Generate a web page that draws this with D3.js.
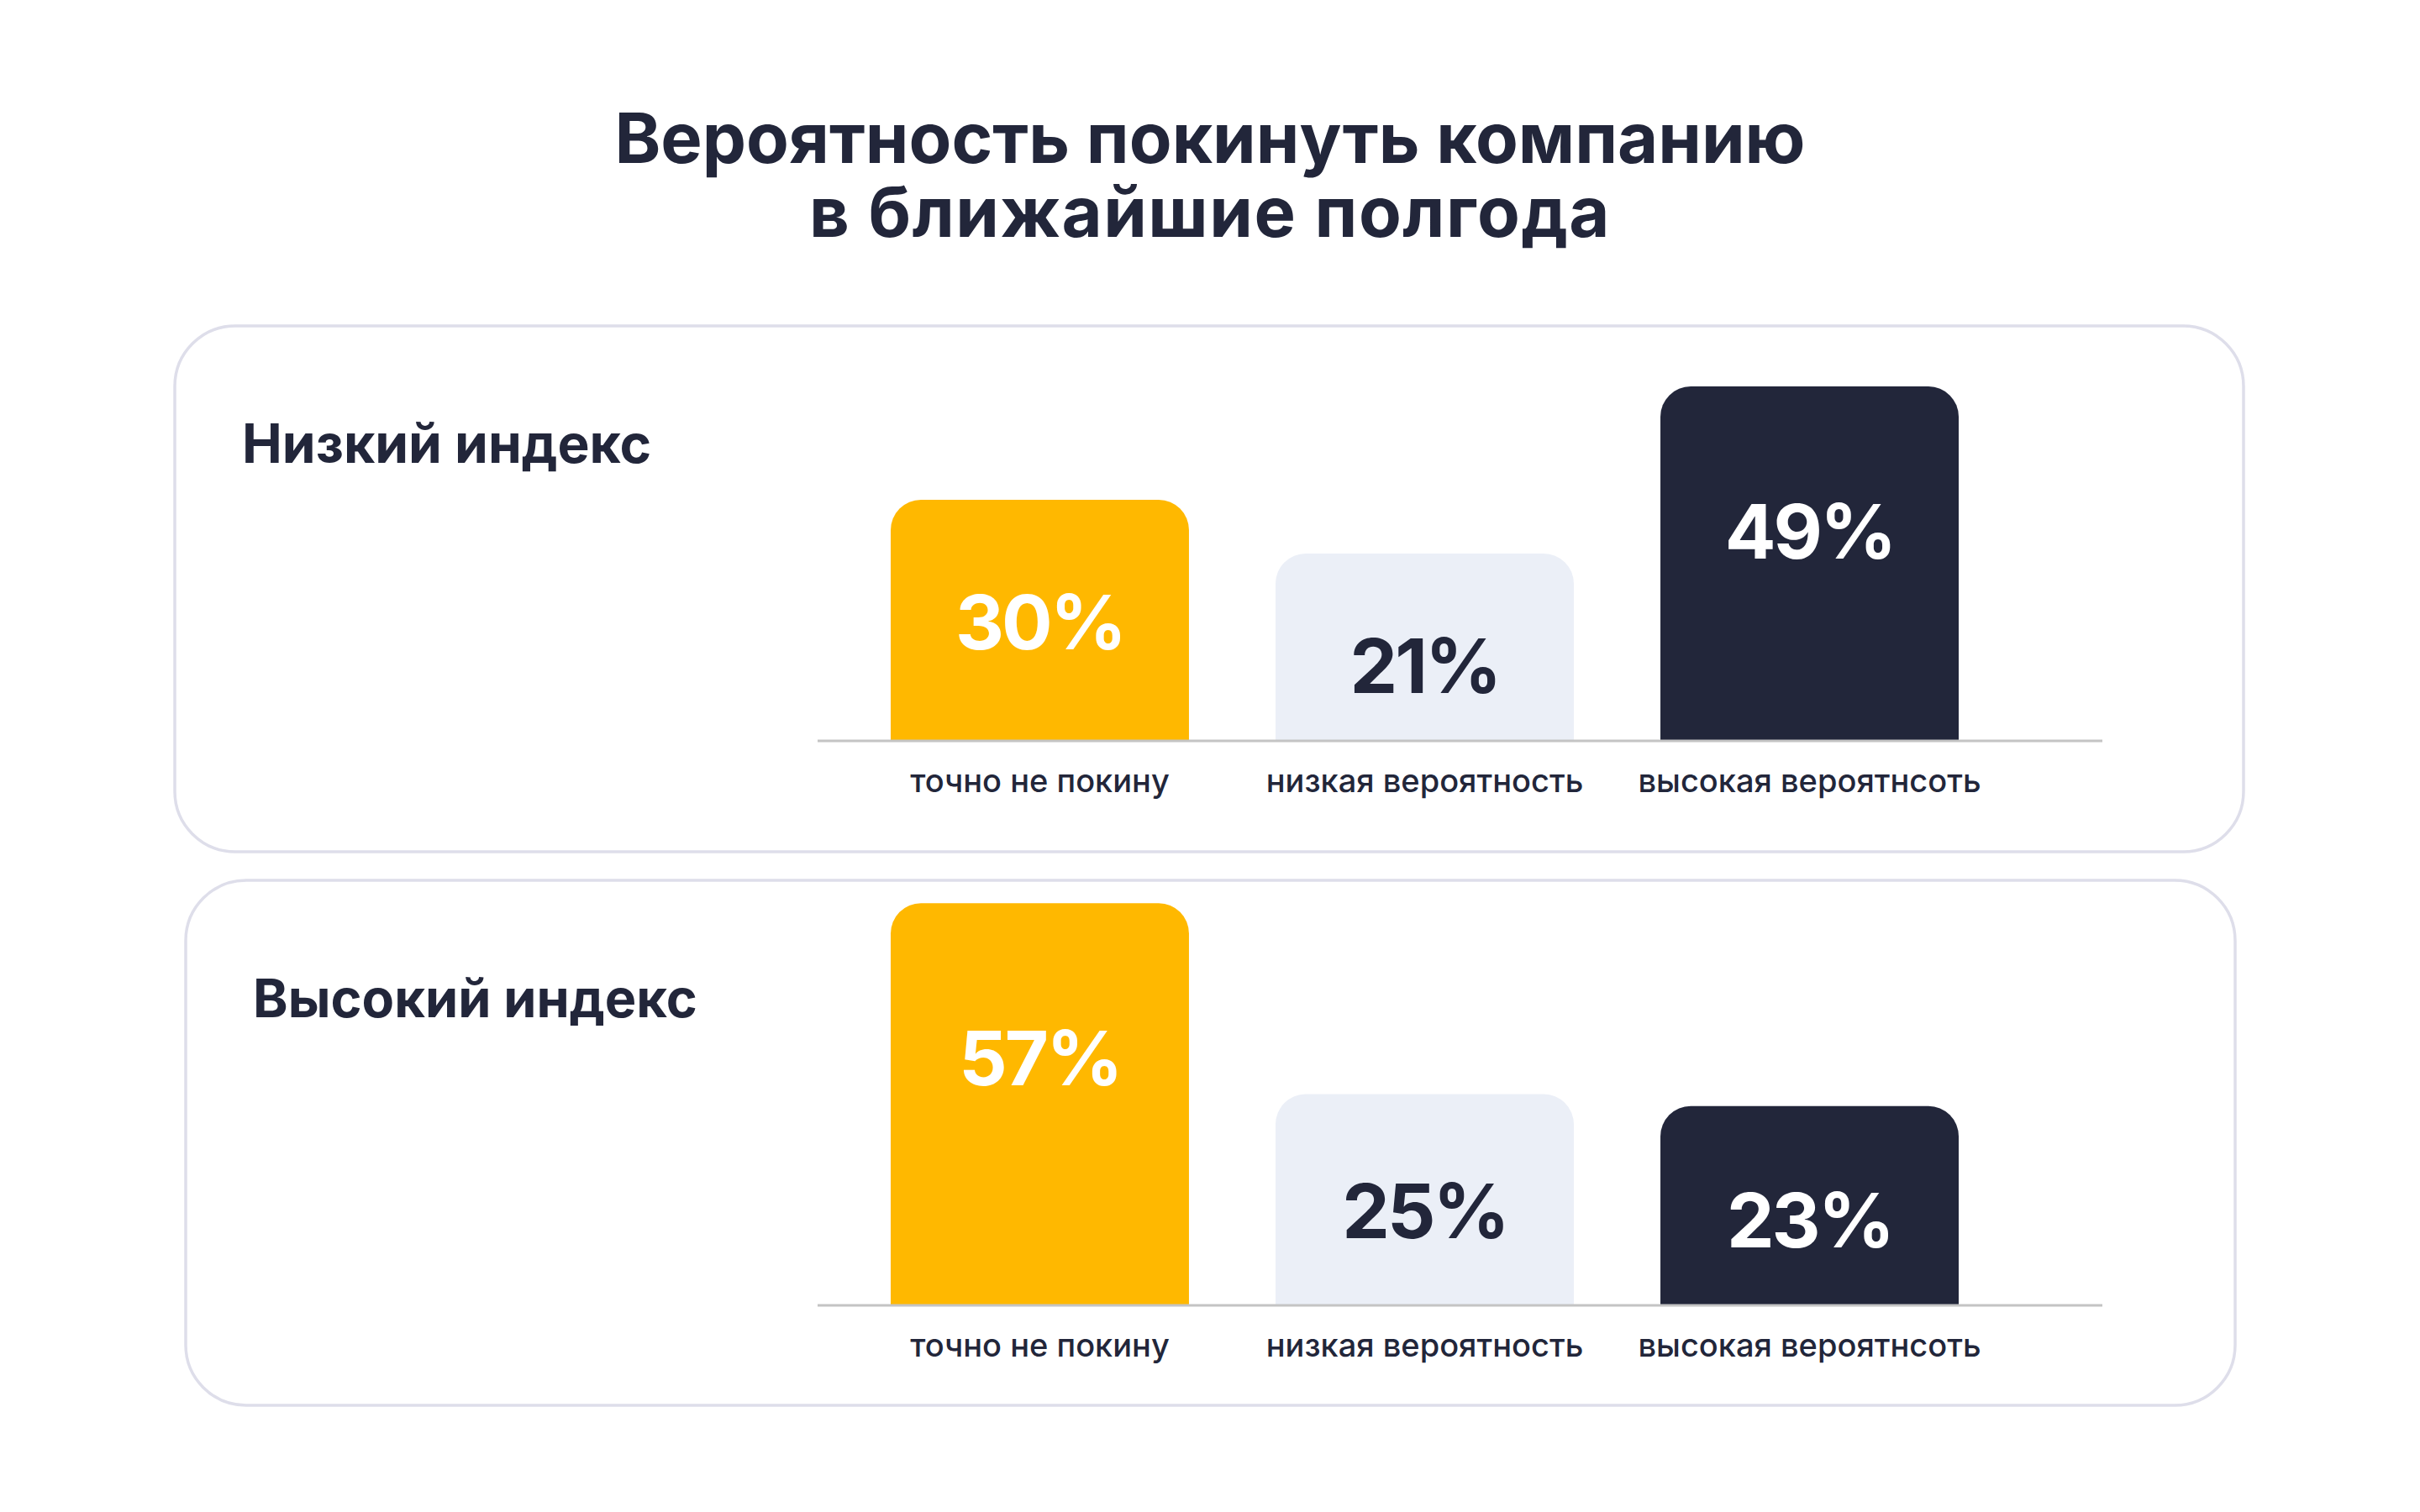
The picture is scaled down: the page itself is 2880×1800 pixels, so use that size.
<!DOCTYPE html>
<html lang="ru">
<head>
<meta charset="utf-8">
<script src="https://cdn.jsdelivr.net/npm/d3@7"></script>
<style>
    html, body { margin: 0; padding: 0; background: #ffffff; }
    svg { display: block; font-family: Inter, "Noto Sans", sans-serif; }
</style>
</head>
<body>
<svg id="chart" width="2880" height="1800"></svg>
<script>
// данные графика
var titleLines = ["Вероятность покинуть компанию", "в ближайшие полгода"];
var panelTitles = ["Низкий индекс", "Высокий индекс"];
var categories = ["точно не покину", "низкая вероятность", "высокая вероятнсоть"];
var lowIndex = [30, 21, 49];
var highIndex = [57, 25, 23];
var barColors = ["#FFB800", "#EBEFF7", "#22263A"];
var valueColors = ["#ffffff", "#22263A", "#ffffff"];

var dark = "#22263A";
var svg = d3.select("#chart");

// заголовок
svg.selectAll(".title")
    .data(titleLines)
    .enter()
    .append("text")
    .attr("class", "title")
    .attr("x", 1440)
    .attr("y", function (d, i) { return 194 + i * 88; })
    .attr("text-anchor", "middle")
    .attr("font-size", 83)
    .attr("font-weight", 700)
    .attr("letter-spacing", function (d, i) { return i == 0 ? 0 : 1.5; })
    .attr("fill", dark)
    .text(function (d) { return d; });

// раскладка карточек
var panels = [
    { title: panelTitles[0], values: lowIndex, x: 208, y: 388, w: 2462, h: 626, base: 882, fs: 64 },
    { title: panelTitles[1], values: highIndex, x: 221, y: 1048, w: 2439, h: 625, base: 1554, fs: 63 }
];

var x = d3.scaleBand()
    .domain(categories)
    .range([1060, 2331])
    .paddingInner(0.225)
    .paddingOuter(0);

// высота столбца (у макета есть минимальная высота)
var h = d3.scaleLinear().domain([0, 60]).range([74, 500]);

var r = 36;

function topRounded(x0, y0, w, hh) {
    var p = d3.path();
    p.moveTo(x0, y0 + hh);
    p.lineTo(x0, y0 + r);
    p.arcTo(x0, y0, x0 + r, y0, r);
    p.lineTo(x0 + w - r, y0);
    p.arcTo(x0 + w, y0, x0 + w, y0 + r, r);
    p.lineTo(x0 + w, y0 + hh);
    p.closePath();
    return p.toString();
}

panels.forEach(function (pn) {
    var g = svg.append("g");

    g.append("rect")
        .attr("x", pn.x)
        .attr("y", pn.y)
        .attr("width", pn.w)
        .attr("height", pn.h)
        .attr("rx", 72)
        .attr("fill", "#ffffff")
        .attr("stroke", "#DEDEEA")
        .attr("stroke-width", 3.5);

    g.append("text")
        .attr("x", pn.x + 80)
        .attr("y", pn.y + 163)
        .attr("font-size", pn.fs)
        .attr("font-weight", 700)
        .attr("fill", dark)
        .text(pn.title);

    var rows = categories.map(function (c, i) {
        return { cat: c, val: pn.values[i], i: i };
    });

    g.selectAll(".bar")
        .data(rows)
        .enter()
        .append("path")
        .attr("class", "bar")
        .attr("d", function (d) {
            return topRounded(x(d.cat), pn.base - h(d.val), x.bandwidth(), h(d.val));
        })
        .attr("fill", function (d) { return barColors[d.i]; });

    var axis = d3.axisBottom(x).tickSize(0).tickPadding(0);
    var ax = g.append("g")
        .attr("transform", "translate(0," + pn.base + ")")
        .call(axis);
    ax.select(".domain").remove();
    ax.insert("line", ":first-child")
        .attr("x1", 973)
        .attr("x2", 2502)
        .attr("stroke", "#C4C4C4")
        .attr("stroke-width", 3);
    ax.selectAll(".tick text")
        .attr("dy", null)
        .attr("y", 61)
        .attr("font-family", "Inter, 'Noto Sans', sans-serif")
        .attr("font-size", 38)
        .attr("font-weight", 500)
        .attr("fill", dark);

    g.selectAll(".val")
        .data(rows)
        .enter()
        .append("text")
        .attr("class", "val")
        .attr("x", function (d) { return x(d.cat) + x.bandwidth() / 2; })
        .attr("y", function (d) { return pn.base - h(d.val) + 0.2 * h(d.val) + 121; })
        .attr("text-anchor", "middle")
        .attr("font-size", 90)
        .attr("font-weight", 700)
        .attr("letter-spacing", -3)
        .attr("fill", function (d) { return valueColors[d.i]; })
        .text(function (d) { return d.val + "%"; });
});
</script>
</body>
</html>
